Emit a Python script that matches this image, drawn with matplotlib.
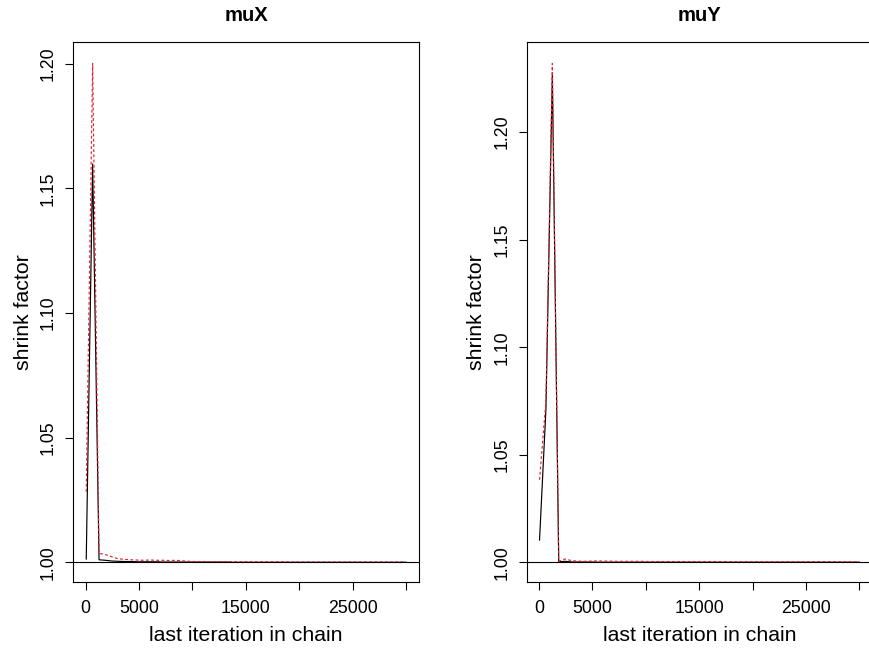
import matplotlib
matplotlib.use("Agg")
import matplotlib.pyplot as plt

plt.rcParams['font.family'] = ['Liberation Sans', 'DejaVu Sans']

# last iteration of each bin (Gelman-Rubin shrink factor computed on growing chains)
last_iter = [51, 650, 1249, 1848, 2447, 3046, 3645, 4244, 4843, 5442,
             6041, 6640, 7239, 7838, 8437, 9036, 9635, 10234, 10833, 11432,
             12031, 12630, 13229, 13828, 14427, 15026, 15625, 16224, 16823, 17422,
             18021, 18620, 19219, 19818, 20417, 21016, 21615, 22214, 22813, 23412,
             24011, 24610, 25209, 25808, 26407, 27006, 27605, 28204, 28803, 29402,
             30000]

# muX: median and 97.5% quantile of the shrink factor
mux_median = [1.0013, 1.1600, 1.0010, 1.0008, 1.0005, 1.0004, 1.0003, 1.0003, 1.0002, 1.0002,
              1.0002, 1.0002, 1.0001, 1.0001, 1.0001, 1.0001, 1.0001, 1.0001, 1.0001, 1.0001,
              1.0001, 1.0001, 1.0001, 1.0000, 1.0000, 1.0000, 1.0000, 1.0000, 1.0000, 1.0000,
              1.0000, 1.0000, 1.0000, 1.0000, 1.0000, 1.0000, 1.0000, 1.0000, 1.0000, 1.0000,
              1.0000, 1.0000, 1.0000, 1.0000, 1.0000, 1.0000, 1.0000, 1.0000, 1.0000, 1.0000,
              1.0000]
mux_upper = [1.0283, 1.2002, 1.0036, 1.0031, 1.0022, 1.0014, 1.0012, 1.0010, 1.0009, 1.0008,
             1.0009, 1.0008, 1.0008, 1.0007, 1.0008, 1.0006, 1.0004, 1.0003, 1.0003, 1.0003,
             1.0002, 1.0002, 1.0002, 1.0002, 1.0002, 1.0002, 1.0002, 1.0002, 1.0002, 1.0002,
             1.0002, 1.0002, 1.0001, 1.0001, 1.0001, 1.0001, 1.0001, 1.0001, 1.0001, 1.0001,
             1.0001, 1.0001, 1.0001, 1.0001, 1.0001, 1.0001, 1.0001, 1.0001, 1.0001, 1.0001,
             1.0001]

# muY: median and 97.5% quantile of the shrink factor
muy_median = [1.0104, 1.0713, 1.2267, 1.0003, 1.0005, 1.0002, 1.0002, 1.0002, 1.0002, 1.0001,
              1.0001, 1.0001, 1.0001, 1.0001, 1.0001, 1.0001, 1.0001, 1.0001, 1.0001, 1.0001,
              1.0001, 1.0001, 1.0001, 1.0001, 1.0001, 1.0001, 1.0001, 1.0001, 1.0001, 1.0001,
              1.0001, 1.0001, 1.0001, 1.0001, 1.0001, 1.0001, 1.0001, 1.0001, 1.0001, 1.0001,
              1.0001, 1.0001, 1.0001, 1.0001, 1.0001, 1.0001, 1.0001, 1.0001, 1.0001, 1.0001,
              1.0001]
muy_upper = [1.0384, 1.0750, 1.2319, 1.0005, 1.0016, 1.0008, 1.0006, 1.0005, 1.0006, 1.0007,
             1.0006, 1.0006, 1.0005, 1.0005, 1.0005, 1.0005, 1.0005, 1.0004, 1.0004, 1.0004,
             1.0004, 1.0004, 1.0004, 1.0004, 1.0004, 1.0004, 1.0004, 1.0004, 1.0004, 1.0004,
             1.0003, 1.0003, 1.0003, 1.0003, 1.0003, 1.0003, 1.0003, 1.0003, 1.0003, 1.0003,
             1.0003, 1.0003, 1.0003, 1.0003, 1.0003, 1.0003, 1.0003, 1.0003, 1.0003, 1.0003,
             1.0003]

x_ticks = [0, 5000, 10000, 15000, 20000, 25000, 30000]
x_tick_labels = ["0", "5000", "", "15000", "", "25000", ""]
y_ticks = [1.00, 1.05, 1.10, 1.15, 1.20]
y_tick_labels = ["1.00", "1.05", "1.10", "1.15", "1.20"]

W, H = 869, 650
fig = plt.figure(figsize=(W / 100, H / 100), dpi=100)

panels = [
    ("muX", mux_median, mux_upper, (73.3, 41.7, 419.0, 581.7), (-1161, 31208), (0.99221, 1.2089)),
    ("muY", muy_median, muy_upper, (527.0, 41.7, 872.6, 581.7), (-1124, 31245), (0.99103, 1.2420)),
]

for title, med, upp, (x0, y0, x1, y1), xl, yl in panels:
    ax = fig.add_axes([x0 / W, 1 - y1 / H, (x1 - x0) / W, (y1 - y0) / H])
    ax.plot(last_iter, med, color="black", lw=0.85, solid_joinstyle="miter")
    ax.plot(last_iter, upp, color="#E8222B", lw=0.85, dashes=(2.4, 2.0))
    ax.axhline(1.0, color="black", lw=0.8)
    ax.set_xlim(*xl)
    ax.set_ylim(*yl)
    ax.set_xticks(x_ticks)
    ax.set_xticklabels(x_tick_labels)
    ax.set_yticks(y_ticks)
    ax.set_yticklabels(y_tick_labels, rotation=90, va="center")
    ax.tick_params(axis="both", direction="out", length=6, width=0.8,
                   labelsize=12.8, colors="black")
    ax.tick_params(axis="x", pad=7)
    ax.tick_params(axis="y", pad=6)
    for s in ax.spines.values():
        s.set_linewidth(0.8)
        s.set_color("black")
    ax.set_title(title, fontsize=14.6, fontweight="bold", pad=15)
    ax.set_xlabel("last iteration in chain", fontsize=15.3, labelpad=7)
    ax.set_ylabel("shrink factor", fontsize=15.3, labelpad=5)

fig.savefig("out.png", dpi=100)
